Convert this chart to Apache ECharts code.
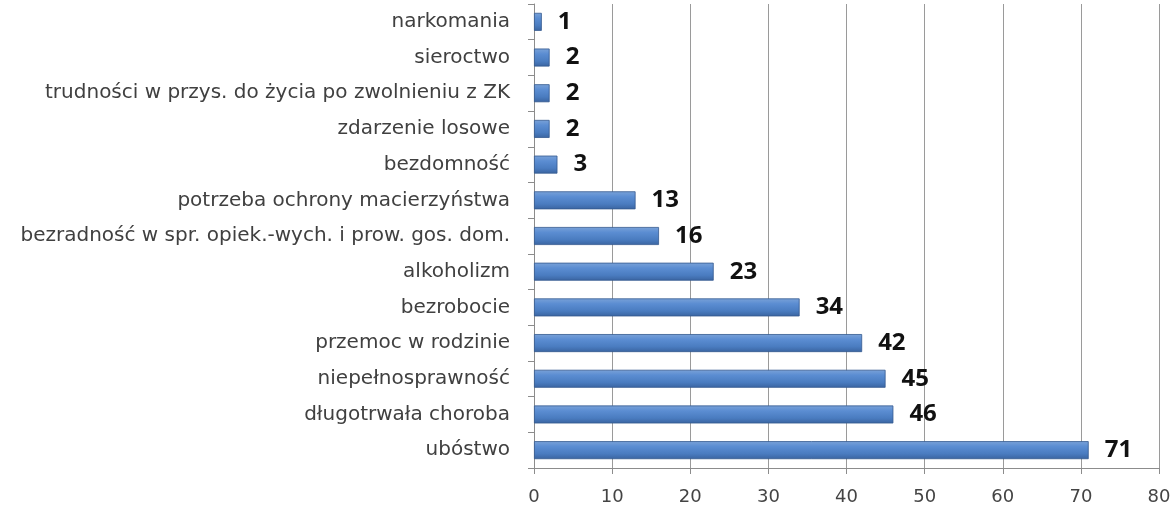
<!DOCTYPE html>
<html>
<head>
<meta charset="utf-8">
<script src="https://cdn.jsdelivr.net/npm/echarts@6/dist/echarts.min.js"></script>
<style>
  html, body { margin: 0; padding: 0; background: #fff; }
  #chart { width: 1176px; height: 510px; }
</style>
</head>
<body>
<div id="chart"></div>
<script>
// categories listed bottom to top
const categories = [
  'ubóstwo',
  'długotrwała choroba',
  'niepełnosprawność',
  'przemoc w rodzinie',
  'bezrobocie',
  'alkoholizm',
  'bezradność w spr. opiek.-wych. i prow. gos. dom.',
  'potrzeba ochrony macierzyństwa',
  'bezdomność',
  'zdarzenie losowe',
  'trudności w przys. do życia po zwolnieniu z ZK',
  'sieroctwo',
  'narkomania'
]
const values = [71, 46, 45, 42, 34, 23, 16, 13, 3, 2, 2, 2, 1]

const chart = echarts.init(document.getElementById('chart'))
chart.setOption({
  animation: false,
  grid: {
    left: 534,
    right: 17,
    top: 4,
    bottom: 42,
    containLabel: false
  },
  xAxis: {
    type: 'value',
    min: 0,
    max: 80,
    interval: 10,
    axisLine: { show: true, lineStyle: { color: '#8c8c8c' } },
    axisTick: { show: true, length: 6, lineStyle: { color: '#8c8c8c' } },
    axisLabel: { color: '#444', fontSize: 18, fontFamily: 'DejaVu Sans', margin: 20 },
    splitLine: { show: true, lineStyle: { color: '#9a9a9a', width: 1 } }
  },
  yAxis: {
    type: 'category',
    data: categories,
    axisLine: { show: true, lineStyle: { color: '#8c8c8c' } },
    axisTick: { show: true, length: 6, lineStyle: { color: '#8c8c8c' } },
    axisLabel: { color: '#404040', fontSize: 20, fontFamily: 'DejaVu Sans', margin: 24 },
    splitLine: { show: false }
  },
  series: [{
    type: 'bar',
    data: values,
    barWidth: 18,
    itemStyle: {
      color: new echarts.graphic.LinearGradient(0, 0, 0, 1, [
        { offset: 0, color: '#7aa2d8' },
        { offset: 0.3, color: '#5b8dd2' },
        { offset: 0.7, color: '#4a7cc0' },
        { offset: 1, color: '#3a64a0' }
      ]),
      borderColor: '#34598f',
      borderWidth: 0.8
    },
    label: {
      show: true,
      position: 'right',
      distance: 16,
      color: '#111',
      fontSize: 24,
      fontWeight: 'bold',
      fontFamily: 'Noto Sans'
    }
  }]
})
</script>
</body>
</html>
